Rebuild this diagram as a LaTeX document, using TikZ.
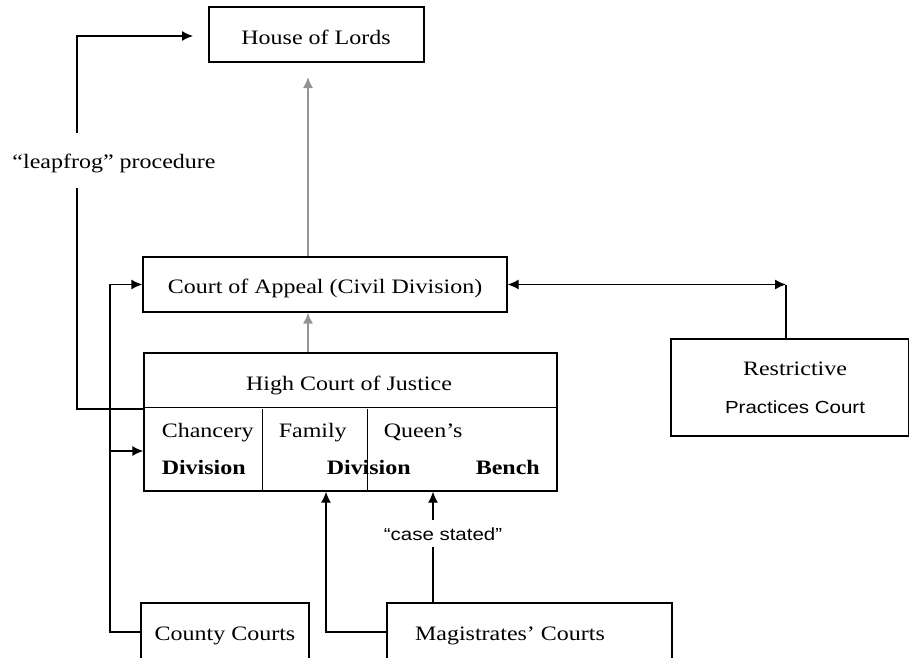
\documentclass[tikz,border=0pt]{standalone}
\usepackage{fontspec}
\setmainfont{Liberation Serif}
\newfontfamily\arialfont{Liberation Sans}
\usetikzlibrary{arrows.meta}

\tikzset{
    court/.style={draw, inner sep=0pt},
    lbl/.style={anchor=base, inner sep=0pt, font=\fontsize{20.5}{24}\selectfont, xscale=1.17, transform shape},
    sans/.style={font=\fontsize{17.5}{21}\arialfont},
    greyline/.style={draw=black!42, line width=1.6pt}
}

\begin{document}
\begin{tikzpicture}[x=1pt, y=1pt, line width=1.3pt, >={Latex[length=11pt,width=10pt]}]

        \useasboundingbox (0,0) rectangle (909,-657);
        \clip (0,0) rectangle (909,-657);

        \node[court, minimum width=215pt, minimum height=55pt] at (316.5,-34.5) (HL) {};
        \node[court, minimum width=364pt, minimum height=55pt] at (325,-284.5) (CA) {};
        \node[court, minimum width=413pt, minimum height=138pt] at (350.5,-422) (HC) {};
        \node[court, minimum width=238pt, minimum height=97pt] at (790,-387.5) (RP) {};
        \node[court, minimum width=168pt, minimum height=90pt] at (225,-648) (CC) {};
        \node[court, minimum width=285pt, minimum height=90pt] at (529.5,-648) (MC) {};

        \draw ([yshift=-55pt]HC.north west) -- ([yshift=-55pt]HC.north east);
        \draw ([xshift=119pt]HC.south west) -- ++(0,83);
        \draw ([xshift=224pt]HC.south west) -- ++(0,83);

        \node[lbl] at (316,-44) (hl) {House of Lords};
        \node[lbl] at (114,-168) (lp) {“leapfrog” procedure};
        \node[lbl] at (325,-293) (ca) {Court of Appeal (Civil Division)};
        \node[lbl] at (349,-390) (hc) {High Court of Justice};
        \node[lbl, anchor=base west] at (161,-437) (ch) {Chancery};
        \node[lbl, anchor=base west] at (161,-474) (dA) {\bfseries Division};
        \node[lbl, anchor=base west] at (278,-437) (fa) {Family};
        \node[lbl, anchor=base west] at (326,-474) (dB) {\bfseries Division};
        \node[lbl, anchor=base west] at (383,-437) (qu) {Queen’s};
        \node[lbl, anchor=base west] at (475,-474) (be) {\bfseries Bench};
        \node[lbl] at (795,-375) (re) {Restrictive};
        \node[lbl, sans] at (795,-413) (pc) {Practices Court};
        \node[lbl, sans] at (443,-540) (cs) {“case stated”};
        \node[lbl] at (225,-640) (cc) {County Courts};
        \node[lbl] at (510,-640) (mc) {Magistrates’ Courts};

        \coordinate (LFa) at (77,-409);
        \coordinate (LFb) at (77,-188);
        \coordinate (LFc) at (77,-133);
        \coordinate (LFd) at (193,-36);
        \coordinate (G) at (308,-77);
        \coordinate (L) at (110,-632);
        \coordinate (Lb) at (110,-451);
        \coordinate (Ma) at (326,-632);
        \coordinate (Mb) at (433,-547);
        \coordinate (Mc) at (433,-520);
        \coordinate (R) at (786,-286);

        \draw (HC.west |- LFa) -- (LFa) -- (LFb);
        \draw[->] (LFc) |- (LFd);

        \draw[->, greyline] (CA.north -| G) -- (G);
        \draw[->, greyline] (HC.north -| G) -- (CA.south -| G);

        \draw[->] (CC.west |- L) -| (CA.west -| L) -- (CA.west);
        \draw[->] (Lb) -- (HC.west |- Lb);

        \draw[->] (MC.west |- Ma) -| (HC.south -| Ma);
        \draw (MC.north -| Mb) -- (Mb);
        \draw[->] (Mc) -- (HC.south -| Mc);

        \draw[<->] (CA.east) -- (CA.east -| R);
        \draw (CA.east -| R) -- (RP.north -| R);

    \end{tikzpicture}
\end{document}
